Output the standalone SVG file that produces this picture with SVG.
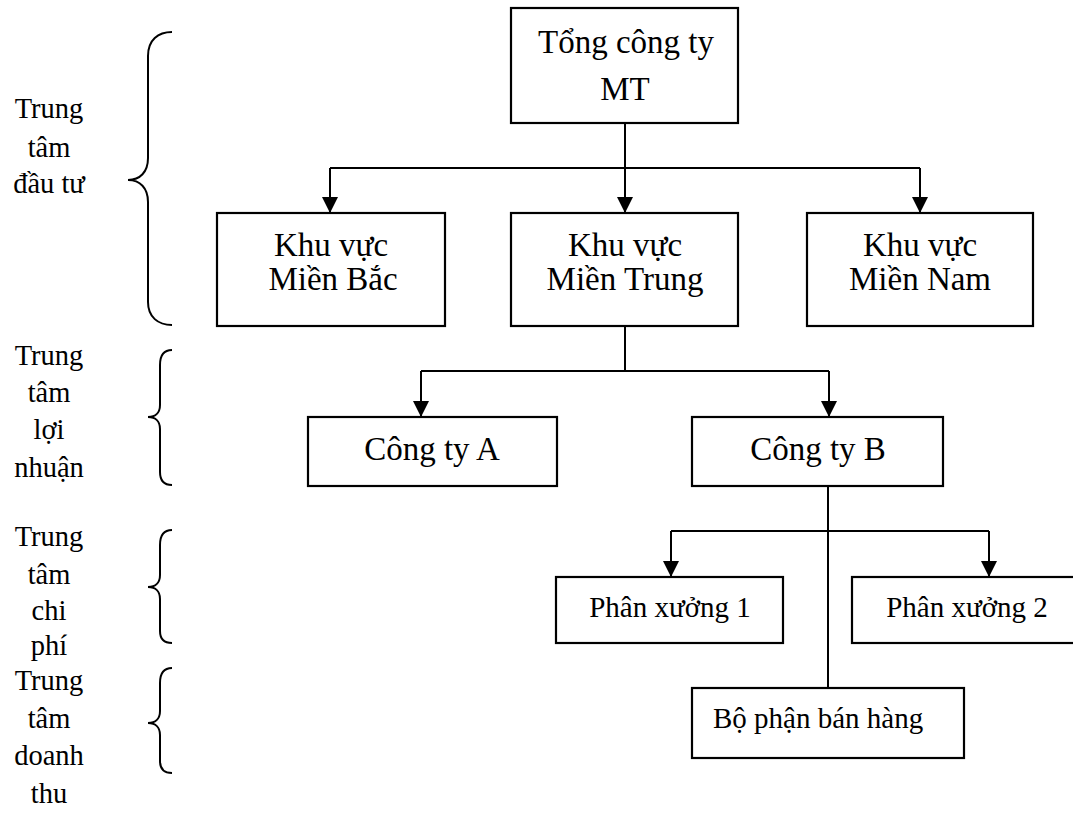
<svg xmlns="http://www.w3.org/2000/svg" width="1073" height="822" viewBox="0 0 1073 822">
<defs>
<marker id="arr" markerUnits="userSpaceOnUse" markerWidth="16" markerHeight="18" refX="16" refY="8" orient="auto">
<path d="M0,0 L16,8 L0,16 Z" fill="#000"/>
</marker>
<style>
.box{fill:#fff;stroke:#000;stroke-width:2.2}
.ln{fill:none;stroke:#000;stroke-width:2}
.t{font-family:"Liberation Serif","Times New Roman",serif;font-size:33px;fill:#000;text-anchor:middle}
.s{font-family:"Liberation Serif","Times New Roman",serif;font-size:29px;fill:#000;text-anchor:middle}
.l{font-family:"Liberation Serif","Times New Roman",serif;font-size:28.5px;fill:#000;text-anchor:middle}
.br{fill:none;stroke:#000;stroke-width:2}
</style>
</defs>
<rect width="1073" height="822" fill="#fff"/>

<g id="labels">
<g id="label-dautu">
<text class="l" x="49" y="118">Trung</text>
<text class="l" x="49" y="157">tâm</text>
<text class="l" x="49" y="193">đầu tư</text>
<path class="br" d="M172,32 C158,32 148,40 148,56 L148,158 C148,172 140,180 128,180 C140,180 148,188 148,202 L148,302 C148,317 158,325 172,325"/>
</g>
<g id="label-loinhuan">
<text class="l" x="49" y="365">Trung</text>
<text class="l" x="49" y="402">tâm</text>
<text class="l" x="49" y="439">lợi</text>
<text class="l" x="49" y="477">nhuận</text>
<path class="br" d="M172,350 C164,350 160,355 160,365 L160,405 C160,413 155,417 148,417 C155,417 160,421 160,429 L160,472 C160,480 164,485 172,485"/>
</g>
<g id="label-chiphi">
<text class="l" x="49" y="546">Trung</text>
<text class="l" x="49" y="584">tâm</text>
<text class="l" x="49" y="620">chi</text>
<text class="l" x="49" y="655">phí</text>
<path class="br" d="M172,530 C164,530 160,535 160,545 L160,575 C160,583 155,587 148,587 C155,587 160,591 160,599 L160,631 C160,639 164,643 172,643"/>
</g>
<g id="label-doanhthu">
<text class="l" x="49" y="690">Trung</text>
<text class="l" x="49" y="728">tâm</text>
<text class="l" x="49" y="765">doanh</text>
<text class="l" x="49" y="803">thu</text>
<path class="br" d="M172,668 C164,668 160,673 160,683 L160,711 C160,719 155,723 148,723 C155,723 160,727 160,735 L160,761 C160,769 164,773 172,773"/>
</g>
</g>

<g id="connectors">
<path class="ln" d="M625,123 L625,168"/>
<path class="ln" d="M330,168 L920,168"/>
<path class="ln" d="M330,168 L330,213" marker-end="url(#arr)"/>
<path class="ln" d="M625,168 L625,213" marker-end="url(#arr)"/>
<path class="ln" d="M920,168 L920,213" marker-end="url(#arr)"/>
<path class="ln" d="M625,326 L625,371"/>
<path class="ln" d="M421,371 L829,371"/>
<path class="ln" d="M421,371 L421,417" marker-end="url(#arr)"/>
<path class="ln" d="M829,371 L829,417" marker-end="url(#arr)"/>
<path class="ln" d="M828,486 L828,688"/>
<path class="ln" d="M671,531 L989,531"/>
<path class="ln" d="M671,531 L671,577" marker-end="url(#arr)"/>
<path class="ln" d="M989,531 L989,577" marker-end="url(#arr)"/>
</g>

<g id="n-tong">
<rect class="box" x="511" y="8" width="227" height="115"/>
<text class="t" x="626" y="53">Tổng công ty</text>
<text class="t" x="625" y="100">MT</text>
</g>
<g id="n-bac">
<rect class="box" x="217" y="213" width="228" height="113"/>
<text class="t" x="331" y="256">Khu vực</text>
<text class="t" x="333" y="290">Miền Bắc</text>
</g>
<g id="n-trung">
<rect class="box" x="511" y="213" width="227" height="113"/>
<text class="t" x="625" y="256">Khu vực</text>
<text class="t" x="625" y="290">Miền Trung</text>
</g>
<g id="n-nam">
<rect class="box" x="807" y="213" width="226" height="113"/>
<text class="t" x="920" y="256">Khu vực</text>
<text class="t" x="920" y="290">Miền Nam</text>
</g>
<g id="n-cta">
<rect class="box" x="308" y="417" width="249" height="69"/>
<text class="t" x="432" y="460">Công ty A</text>
</g>
<g id="n-ctb">
<rect class="box" x="692" y="417" width="251" height="69"/>
<text class="t" x="818" y="460">Công ty B</text>
</g>
<g id="n-px1">
<rect class="box" x="556" y="577" width="227" height="66"/>
<text class="s" x="670" y="617">Phân xưởng 1</text>
</g>
<g id="n-px2">
<rect class="box" x="852" y="577" width="230" height="66"/>
<text class="s" x="967" y="617">Phân xưởng 2</text>
</g>
<g id="n-bp">
<rect class="box" x="692" y="688" width="272" height="70"/>
<text class="s" x="713" y="728" style="text-anchor:start">Bộ phận bán hàng</text>
</g>
</svg>
